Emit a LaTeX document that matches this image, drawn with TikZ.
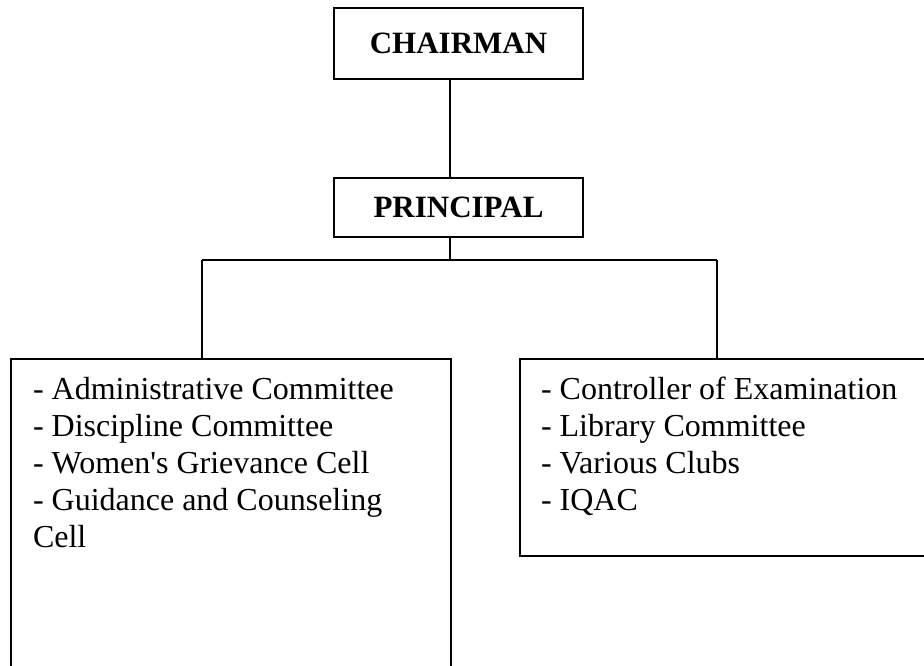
\documentclass[tikz,border=0pt]{standalone}
\usepackage{fontspec}
\setmainfont{Liberation Serif}
\begin{document}
\begin{tikzpicture}[x=1pt,y=-1pt,line width=2pt,
  headbox/.style={draw,rectangle,minimum width=249pt,minimum height=71pt,
    inner sep=0pt,font=\fontsize{31}{37}\selectfont\bfseries},
  unitbox/.style={draw,rectangle,inner sep=0pt,anchor=north west},
  unitlist/.style={anchor=north west,inner sep=0pt,align=left,
    font=\fontsize{32}{37}\selectfont}]
\useasboundingbox (0,0) rectangle (924,666);
\clip (0,0) rectangle (924,666);

% top of the chart
\node[headbox] (chair) at (458.5,43.5) {CHAIRMAN};
\node[headbox,minimum height=59pt] (princ) at (458.5,207.5) {PRINCIPAL};

% lower units (their far edges run past the page)
\node[unitbox,minimum width=440pt,minimum height=340pt] (left) at (10,358) {};
\node[unitbox,minimum width=430pt,minimum height=197pt] (right) at (519,358) {};

\node[unitlist] (leftlist) at (32,376) {- Administrative Committee\\- Discipline Committee\\- Women\textquotesingle s Grievance Cell\\- Guidance and Counseling\\Cell};
\node[unitlist] (rightlist) at (540,376) {- Controller of Examination\\- Library Committee\\- Various Clubs\\- IQAC};

% connectors
\coordinate (stem) at (450,260);
\coordinate (busl) at (202,260);
\coordinate (busr) at (717,260);
\draw (chair.south -| stem) -- (princ.north -| stem);
\draw (princ.south -| stem) -- (stem);
\draw (busl) -- (busr);
\draw (busl) -- (busl |- left.north);
\draw (busr) -- (busr |- right.north);
\end{tikzpicture}
\end{document}
